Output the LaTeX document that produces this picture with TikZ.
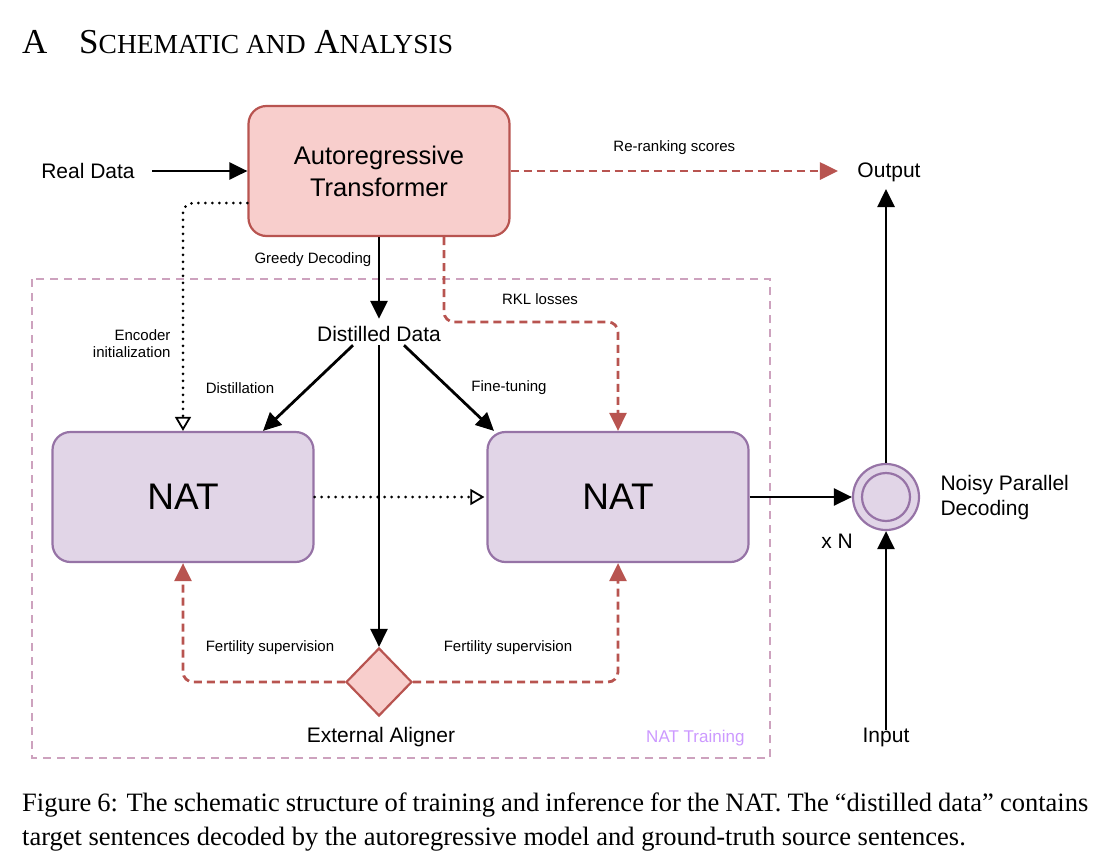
\documentclass[tikz,border=0pt]{standalone}
\usepackage{fontspec}
\setmainfont{Liberation Serif}
\setsansfont{Liberation Sans}
\usepackage{tikz}
\usetikzlibrary{arrows.meta,positioning,shapes.geometric}
\definecolor{arfill}{HTML}{F8CECC}
\definecolor{ardraw}{HTML}{B85450}
\definecolor{natfill}{HTML}{E1D5E7}
\definecolor{natdraw}{HTML}{9673A6}
\definecolor{framec}{HTML}{CDA2BE}
\definecolor{framelbl}{HTML}{CC99FF}
\tikzset{
  ar/.style={-{Triangle[length=18pt,width=17pt]},line width=2.8pt},
  redar/.style={ar,ardraw,dash pattern=on 8pt off 5pt},
  dotar/.style={-{Triangle[open,length=14pt,width=16pt,line width=1.8pt]},line width=3pt,line cap=round,dash pattern=on 0pt off 7pt},
  blk/.style={draw,rounded corners=18pt,minimum width=261pt,minimum height=130pt,line width=2.2pt,align=center},
  lbl/.style={font=\sffamily\fontsize{21}{25}\selectfont},
  sml/.style={font=\sffamily\fontsize{15}{17}\selectfont,text=black}
}

\begin{document}
\begin{tikzpicture}[x=1pt,y=-1pt]
\useasboundingbox (0,0) rectangle (1114,857);
% heading
\node[anchor=base west,inner sep=0pt,font=\fontsize{35}{42}\selectfont] (hnum) at (22,53) {A};
\node[anchor=base west,inner sep=0pt,font=\fontsize{35}{42}\selectfont] (htitle) at (79,53)
  {S{\fontsize{27.5}{33}\selectfont CHEMATIC AND} A{\fontsize{27.5}{33}\selectfont NALYSIS}};
% blocks
\node[blk,fill=arfill,draw=ardraw,font=\sffamily\fontsize{25.5}{32}\selectfont] (art) at (379,171) {Autoregressive\\Transformer};
\node[blk,fill=natfill,draw=natdraw,font=\sffamily\fontsize{37}{40}\selectfont] (nat1) at (183,497) {NAT};
\node[blk,fill=natfill,draw=natdraw,font=\sffamily\fontsize{37}{40}\selectfont] (nat2) at (618,497) {NAT};
\node[diamond,aspect=1,draw=ardraw,fill=arfill,line width=2.2pt,minimum width=66pt,minimum height=68pt,inner sep=0pt] (aln) at (379,682) {};
\node[circle,draw=natdraw,fill=natfill,line width=2.2pt,minimum size=66pt] (npd) at (886,497) {};
\draw[natdraw,line width=2.2pt] (npd.center) circle (24pt);
% plain labels
\node[lbl] (real) at (88,171) {Real Data};
\node[lbl] (out) at (889,172) {Output};
\node[lbl] (inp) at (886,737) {Input};
\node[lbl] (dist) at (379,334) {Distilled Data};
\node[lbl] (ext) at (381,737) {External Aligner};
\node[lbl,align=left,anchor=west] (npdl) at (937,498) {Noisy Parallel\\Decoding};
\node[lbl] (xn) at (837,541) {x N};
% NAT training frame
\draw[framec,line width=2.6pt,dash pattern=on 8pt off 6pt] (32,279) rectangle (770,758);
\node[font=\sffamily\fontsize{17}{20}\selectfont,text=framelbl,anchor=east] (frl) at (748,738) {NAT Training};
% connectors
\draw[ar] ([xshift=14pt]real.east) -- (art.west);
\draw[redar] (art.east) -- ([xshift=-16pt]art.east -| out.west)
  node[sml,midway,above=12pt] (rrk) {Re-ranking scores};
\draw[ar] (npd.north) -- ([yshift=-4pt]npd.north |- out.south);
\draw[ar] ([yshift=-6pt]inp.north) -- (npd.south);
\draw[ar] (nat2.east) -- (npd.west);
\draw[ar] (art.south) -- ([yshift=4pt]dist.north)
  node[sml,pos=0.27,left=3pt] (grd) {Greedy Decoding};
\draw[ar] ([xshift=-26pt]dist.south) -- ([xshift=80pt]nat1.north);
\draw[ar] ([xshift=25pt]dist.south) -- ([xshift=-124pt]nat2.north);
\draw[ar] (dist.south) -- (aln.north);
\draw[dotar] (nat1.east) -- ([xshift=-2pt]nat2.west);
\draw[dotar,rounded corners=10pt] ([yshift=-32pt]art.west) -| (nat1.north);
\coordinate (rk) at (618,322);
\draw[redar,rounded corners=10pt] ([xshift=65pt]art.south) |- (rk) -- (nat2.north);
\draw[redar,rounded corners=10pt] (aln.west) -| (nat1.south);
\draw[redar,rounded corners=10pt] (aln.east) -| (nat2.south);
% connector labels
\node[sml,align=right,anchor=east] (enc) at (174,344) {Encoder\\initialization};
\node[sml] (dlb) at (240,388) {Distillation};
\node[sml] (ftn) at (509,388) {Fine-tuning};
\node[sml] (rkl) at (540,299) {RKL losses};
\node[sml] (fs1) at (270,648) {Fertility supervision};
\node[sml] (fs2) at (508,648) {Fertility supervision};
% caption
\node[anchor=north west,inner sep=0pt,text width=1066pt,align=justify,font=\fontsize{26.5}{34}\selectfont] (cap) at (22,793)
  {Figure 6: The schematic structure of training and inference for the NAT. The “distilled data” contains target sentences decoded by the autoregressive model and ground-truth source sentences.};
\end{tikzpicture}
\end{document}
